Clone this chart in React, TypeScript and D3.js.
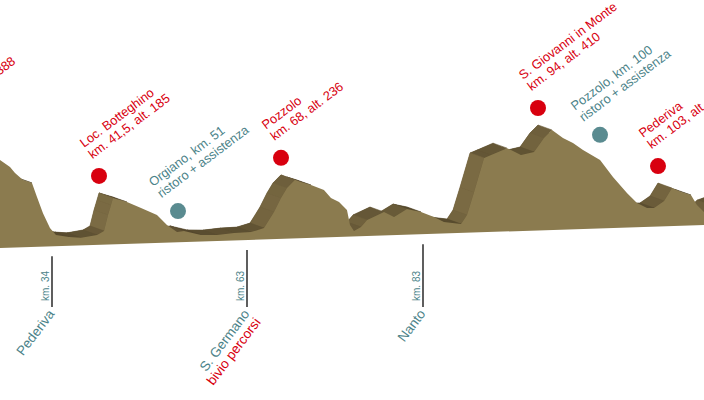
import React from "react";
import * as d3 from "d3";

const W = 704;
const H = 400;
const FONT = "'Liberation Sans', Arial, Helvetica, sans-serif";

// Route profile: distance (km) and altitude (m)
const profileKm = [
  3.0, 7.8, 11.05, 14.3, 16.7, 18, 20.75, 23.3, 24.95, 25.76, 27.05, 28.5, 29.31, 30.28,
  31.41, 32.38, 34.48, 36.39, 38.95, 40.06, 40.7, 41.18, 41.5, 43.18, 44.87, 46.79, 47.99,
  49.2, 50.04, 52.57, 55.35, 58.3, 61.26, 63.44, 64.91, 65.94, 66.82, 68, 68.63, 69.69,
  71.06, 71.8, 72.65, 73.49, 73.81, 74.23, 74.97, 75.61, 77.4, 78.46, 79.83, 81.31, 82.68,
  83.67, 85.3, 85.87, 86.54, 87.5, 88.17, 89.7, 91.03, 92.28, 93.23, 94, 95.06, 96.03, 97.0,
  98.65, 99.9, 100.67, 101.19, 101.71, 102.07, 102.59, 103, 103.47, 103.98, 104.29, 104.66,
  105.02, 105.33, 105.95, 107.24,
];
const profileAlt = [
  40, 60, 150, 300, 370, 388, 375, 360, 329, 303, 273, 259, 199, 131, 68, 37, 27, 22, 32,
  48, 114, 156, 185, 166, 139, 108, 64, 33, 37, 18, 15, 21, 23, 38, 104, 162, 203, 236, 226,
  212, 189, 155, 137, 102, 39, 13, 29, 58, 89, 67, 98, 84, 61, 39, 28, 65, 160, 302, 313,
  340, 309, 320, 377, 410, 375, 352, 322, 277, 204, 135, 92, 70, 69, 97, 150, 132, 118, 75,
  45, 73, 81, 85, 80,
];

// The drawing is not to scale in km: reference kilometres and where they sit across the strip
const kmStops = [18, 34, 41.5, 51, 63, 68, 83, 94, 100, 103];
const kmStopX = [-47, 52, 99, 178, 247, 281, 423, 538, 600, 658];

// Summits (red markers)
const summitKm = [18, 41.5, 68, 94, 103];
const summitAlt = [388, 185, 236, 410, 150];
const summitName = ["", "Loc. Botteghino", "Pozzolo", "S. Giovanni in Monte", "Pederiva"];
const summitKmText = ["18", "41,5", "68", "94", "103"];

// Refreshment / assistance points (teal markers)
const aidKm = [51, 100];
const aidPlace = ["Orgiano", "Pozzolo"];
const aidMarkAlt = [27, 289];

// Places along the route marked under the ground line
const passKm = [34, 63, 83];
const passName = ["Pederiva", "S. Germano", "Nanto"];
const passNote = ["", "bivio percorsi", ""];

const RED = "#d8000f";
const TEAL = "#4c8389";
const TEAL_DOT = "#5a8b90";
const FRONT = "#8b7b4f";

const DEPTH_X = -14;
const DEPTH_Y = -5;

export default function App() {
  const x = d3.scaleLinear().domain(kmStops).range(kmStopX);
  const ground = d3.scaleLinear().domain([0, W]).range([248, 225]);
  const lift = d3.scaleLinear().domain([0, 400]).range([2.24, 97.6]);

  // near face of the extruded profile, and its far copy shifted into depth
  const front: [number, number][] = profileKm.map((k, i) => {
    const fx = x(k) - DEPTH_X;
    return [fx, ground(fx) - lift(profileAlt[i])];
  });
  const back: [number, number][] = front.map(([px, py]) => [px + DEPTH_X, py + DEPTH_Y]);

  const line = d3.line();
  const first = front[0][0];
  const last = front[front.length - 1][0];
  const frontPoly = [
    ...front,
    [last, ground(last)] as [number, number],
    [first, ground(first)] as [number, number],
  ];
  const backPoly = [
    ...back,
    [last + DEPTH_X, ground(last) + DEPTH_Y] as [number, number],
    [first + DEPTH_X, ground(first) + DEPTH_Y] as [number, number],
  ];

  // side faces, lit by their slope, painted from the far right towards the viewer
  const shade = d3.interpolateRgb("#4c4027", "#7d6d45");
  const quads: { d: string; fill: string }[] = [];
  for (let i = front.length - 2; i >= 0; i--) {
    const f0 = front[i];
    const f1 = front[i + 1];
    const sx = f1[0] - f0[0];
    const sy = f1[1] - f0[1];
    const cross = sx * DEPTH_Y - sy * DEPTH_X;
    if (cross >= 0) continue;
    const a = Math.atan2(sy, sx);
    const t = Math.max(0, Math.min(1, 0.3 - a * 0.5));
    quads.push({
      d: line([f0, f1, back[i + 1], back[i]]) + "Z",
      fill: shade(t),
    });
  }

  const markY = (km: number, alt: number) => {
    const bx = x(km);
    return ground(bx - DEPTH_X) - lift(alt) + DEPTH_Y - 17;
  };

  return (
    <svg
      width={W}
      height={H}
      viewBox={`0 0 ${W} ${H}`}
      style={{ position: "absolute", left: 0, top: 0, background: "#fff" }}
      fontFamily={FONT}
    >
      <path d={line(backPoly) + "Z"} fill="#54472c" />
      {quads.map((q, i) => (
        <path key={i} d={q.d} fill={q.fill} stroke={q.fill} strokeWidth={0.6} strokeLinejoin="round" />
      ))}
      <path d={line(frontPoly) + "Z"} fill={FRONT} />

      {/* route places under the ground line */}
      {passKm.map((k, i) => {
        const px = x(k);
        return (
          <g key={`p${i}`}>
            <line x1={px} x2={px} y1={ground(px) + 10} y2={307} stroke="#1a1a1a" strokeWidth={1.4} />
            <text
              transform={`translate(${px - 3.5},${301}) rotate(-90)`}
              fontSize={10}
              fill={TEAL}
            >
              {`km. ${k}`}
            </text>
            <text
              transform={`translate(${px + 3},${314}) rotate(-53)`}
              fontSize={13.5}
              textAnchor="end"
            >
              <tspan x={0} dy={0} fill={TEAL}>{passName[i]}</tspan>
              {passNote[i] && (
                <tspan x={0} dy={14} fill={RED}>{passNote[i]}</tspan>
              )}
            </text>
          </g>
        );
      })}

      {/* summits */}
      {summitKm.map((k, i) => {
        const cx = x(k);
        const cy = markY(k, summitAlt[i]);
        return (
          <g key={`s${i}`}>
            <circle cx={cx} cy={cy} r={8} fill={RED} />
            <text
              transform={`translate(${cx - 15},${cy - 28}) rotate(-37)`}
              fontSize={12.8}
              fill={RED}
            >
              <tspan x={0} dy={0}>{summitName[i]}</tspan>
              <tspan x={0} dy={14}>{`km. ${summitKmText[i]}, alt. ${summitAlt[i]}`}</tspan>
            </text>
          </g>
        );
      })}

      {/* refreshment points */}
      {aidKm.map((k, i) => {
        const cx = x(k);
        const cy = markY(k, aidMarkAlt[i]);
        return (
          <g key={`a${i}`}>
            <circle cx={cx} cy={cy} r={8} fill={TEAL_DOT} />
            <text
              transform={`translate(${cx - 25},${cy - 24}) rotate(-37)`}
              fontSize={12.8}
              fill={TEAL}
            >
              <tspan x={0} dy={0}>{`${aidPlace[i]}, km. ${k}`}</tspan>
              <tspan x={0} dy={14}>ristoro + assistenza</tspan>
            </text>
          </g>
        );
      })}
    </svg>
  );
}
